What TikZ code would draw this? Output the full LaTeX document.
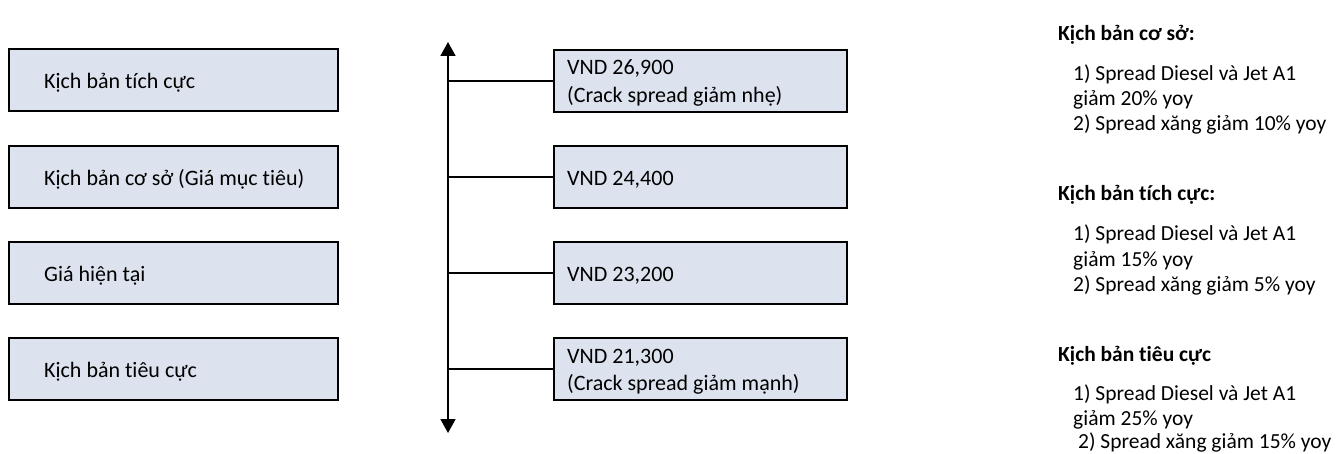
\documentclass[tikz,border=0pt]{standalone}
\usepackage{fontspec}
\setmainfont[Ligatures=NoCommon]{Carlito}
\usetikzlibrary{arrows.meta}
\definecolor{boxfill}{RGB}{221,227,238}
\begin{document}
\begin{tikzpicture}[x=1pt,y=-1pt,
  box/.style={draw=black, line width=2pt, fill=boxfill, minimum width=329pt, minimum height=62pt, inner sep=0pt},
  rbox/.style={box, minimum width=293pt},
  lbl/.style={font=\fontsize{22}{27}\selectfont, inner sep=0pt, anchor=base west},
  head/.style={font=\bfseries\fontsize{21.5}{25}\selectfont, inner sep=0pt, anchor=base west},
  item/.style={font=\fontsize{21.5}{25}\selectfont, inner sep=0pt, anchor=base west},
  conn/.style={draw=black, line width=2pt},
  axis/.style={draw=black, line width=1.6pt, {Triangle[width=15pt,length=14pt]}-{Triangle[width=15pt,length=14pt]}}
]
\useasboundingbox (0,0) rectangle (1338,454);

% left boxes
\node[box] (l1) at (173.5,80.5) {};
\node[box] (l2) at (173.5,177) {};
\node[box] (l3) at (173.5,273) {};
\node[box] (l4) at (173.5,369) {};
\node[lbl] (l1t) at ([xshift=36pt,yshift=-8.5pt]l1.west) {Kịch bản tích cực};
\node[lbl] (l2t) at ([xshift=36pt,yshift=-8.5pt]l2.west) {Kịch bản cơ sở (Giá mục tiêu)};
\node[lbl] (l3t) at ([xshift=36pt,yshift=-8.5pt]l3.west) {Giá hiện tại};
\node[lbl] (l4t) at ([xshift=36pt,yshift=-8.5pt]l4.west) {Kịch bản tiêu cực};

% axis
\coordinate (top) at (448,42);
\coordinate (bot) at (448,433);
\draw[axis] (bot) -- (top);

% right boxes
\node[rbox] (r1) at (700.5,81) {};
\node[rbox] (r2) at (700.5,177) {};
\node[rbox] (r3) at (700.5,273) {};
\node[rbox] (r4) at (700.5,369) {};
\node[lbl] (r1a) at ([xshift=14pt,yshift=6pt]r1.west) {VND 26,900};
\node[lbl] (r1b) at ([xshift=14pt,yshift=-21.5pt]r1.west) {(Crack spread giảm nhẹ)};
\node[lbl] (r2t) at ([xshift=14pt,yshift=-8.5pt]r2.west) {VND 24,400};
\node[lbl] (r3t) at ([xshift=14pt,yshift=-8.5pt]r3.west) {VND 23,200};
\node[lbl] (r4a) at ([xshift=14pt,yshift=6pt]r4.west) {VND 21,300};
\node[lbl] (r4b) at ([xshift=14pt,yshift=-21.5pt]r4.west) {(Crack spread giảm mạnh)};

\foreach \r in {r1,r2,r3,r4}{
  \draw[conn] (\r.west -| top) -- (\r.west);
}

% right notes
\node[head] (h1) at (1058,40.7) {Kịch bản cơ sở:};
\node[item] (i1a) at (1073,80.7) {1) Spread Diesel và Jet A1};
\node[item] (i1b) at (1073,106) {giảm 20\% yoy};
\node[item] (i1c) at (1073,131) {2) Spread xăng giảm 10\% yoy};
\node[head] (h2) at (1058,200.7) {Kịch bản tích cực:};
\node[item] (i2a) at (1073,240.7) {1) Spread Diesel và Jet A1};
\node[item] (i2b) at (1073,266) {giảm 15\% yoy};
\node[item] (i2c) at (1073,291) {2) Spread xăng giảm 5\% yoy};
\node[head] (h3) at (1058,361.7) {Kịch bản tiêu cực};
\node[item] (i3a) at (1073,400.7) {1) Spread Diesel và Jet A1};
\node[item] (i3b) at (1073,425) {giảm 25\% yoy};
\node[item] (i3c) at (1078,448.5) {2) Spread xăng giảm 15\% yoy};
\end{tikzpicture}
\end{document}
